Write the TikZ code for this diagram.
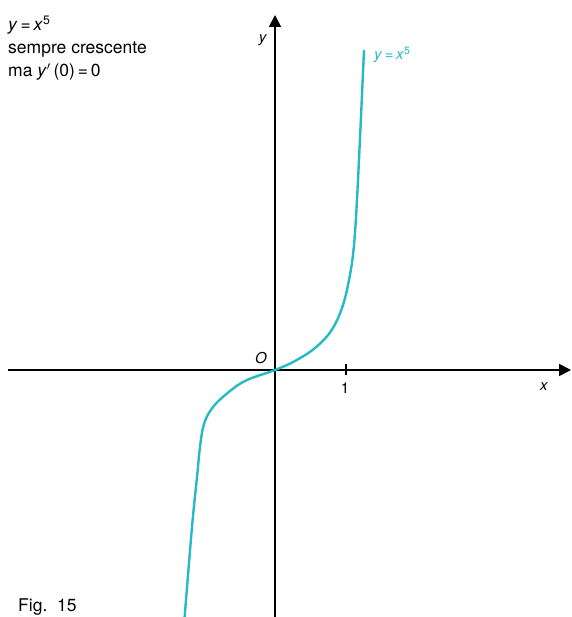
\documentclass[tikz,border=0pt]{standalone}
\usepackage{fontspec}
\setmainfont{TeX Gyre Heros}
\usetikzlibrary{arrows.meta}
\definecolor{curvecol}{RGB}{38,186,196}
\tikzset{
  axis/.style={line width=1.8pt, -{Triangle[length=12pt,width=12pt]}},
  fn/.style={curvecol, line width=2.4pt},
  lbl/.style={inner sep=0pt, font=\fontsize{15}{17}\selectfont},
  note/.style={inner sep=0pt, anchor=base west, font=\fontsize{17.5}{20}\selectfont}
}
\begin{document}
\begin{tikzpicture}[x=1pt,y=-1pt]
\useasboundingbox (0,0) rectangle (571,617);
\clip (0,0) rectangle (571,617);
\coordinate (O) at (275,370);
\coordinate (xl) at (8,370);
\coordinate (xr) at (571,370);
\coordinate (yb) at (275,625);
\coordinate (yt) at (275,15);
\draw[axis] (xl) -- (xr);
\draw[axis] (yb) -- (yt);
\coordinate (t1) at (346,370);
\draw[line width=1.2pt] ([yshift=-5pt]t1) -- ([yshift=6pt]t1);
\draw[fn] plot[smooth, tension=0.6] coordinates {
(184,625) (192,527) (197,477) (200,447) (204,424) (213,407) (230,391) (247,380)
(275,370) (295,361) (315,348) (331,331) (342,308) (349,280) (354,245) (358,180) (364,50)};
\node[lbl, anchor=base] (lo) at (261,363) {\textit{O}};
\node[lbl, anchor=base] (l1) at (345,393) {1};
\node[lbl, anchor=base] (lx) at (544,390) {\textit{x}};
\node[lbl, anchor=base] (ly) at (263,43) {\textit{y}};
\node[lbl, anchor=base west, text=curvecol, font=\fontsize{15}{17}\selectfont] (lf) at (374,60) {\textit{y}\,=\,\textit{x}\textsuperscript{5}};
\node[note] (n1) at (8,31) {\textit{y}\,=\,\textit{x}\textsuperscript{5}};
\node[note] (n2) at (8,54) {sempre crescente};
\node[note] (n3) at (8,77) {ma \textit{y}$'$\,(0)\,=\,0};
\node[note] (fig) at (18,611) {Fig.~~15};
\end{tikzpicture}
\end{document}
